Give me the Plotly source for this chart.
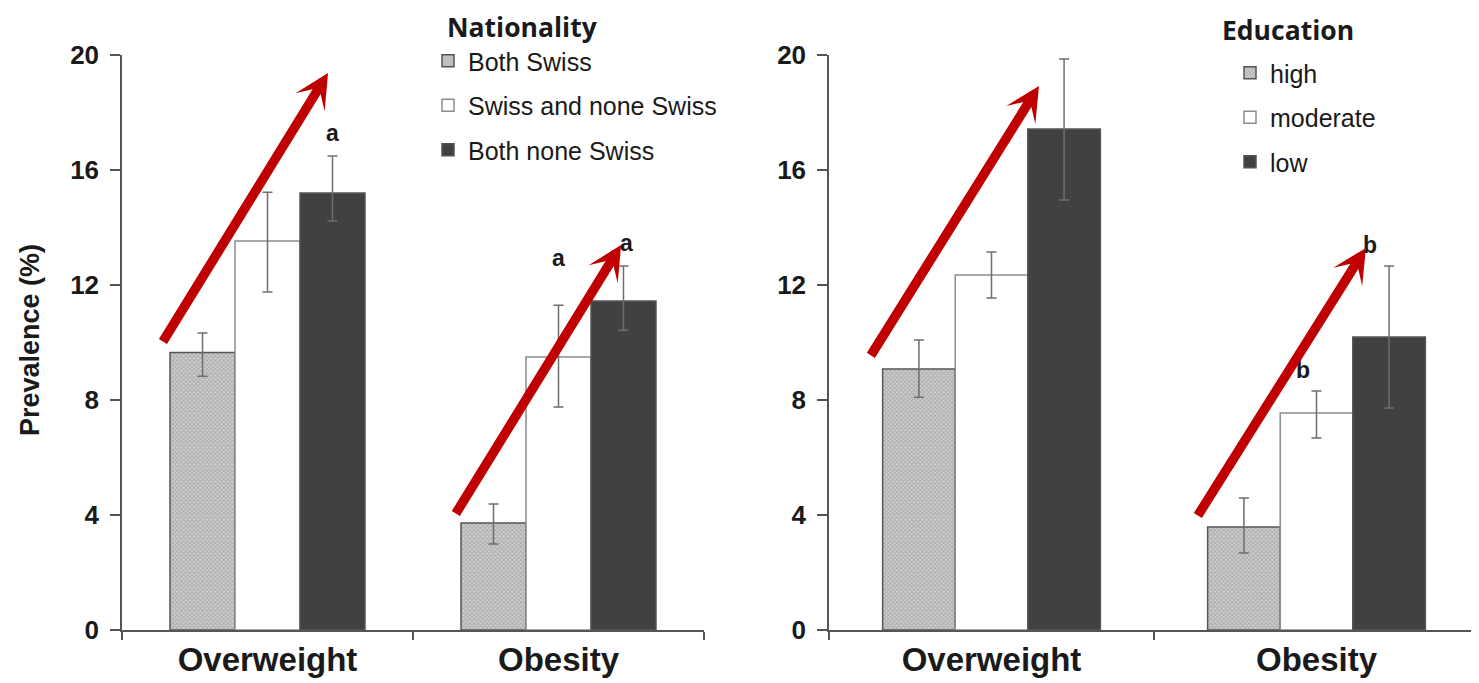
import plotly.graph_objects as go

categories = ["Overweight", "Obesity"]

# Left panel: Nationality
nat_names = ["Both Swiss", "Swiss and none Swiss", "Both none Swiss"]
nat_values = [[9.65, 3.72], [13.53, 9.5], [15.2, 11.44]]
nat_err_plus = [[0.68, 0.66], [1.70, 1.80], [1.29, 1.22]]
nat_err_minus = [[0.82, 0.73], [1.77, 1.74], [0.97, 1.01]]

# Right panel: Education
edu_names = ["high", "moderate", "low"]
edu_values = [[9.08, 3.58], [12.35, 7.55], [17.43, 10.19]]
edu_err_plus = [[1.01, 1.01], [0.80, 0.76], [2.43, 2.47]]
edu_err_minus = [[0.98, 0.90], [0.80, 0.87], [2.47, 2.47]]

# significance letters (panel, text, x position in category units, y value)
letters_panel = [1, 1, 1, 2, 2, 2]
letters_text = ["a", "a", "a", "b", "b", "b"]
letters_x = [0.225, 1.0, 1.235, 0.26, 0.958, 1.165]
letters_y = [17.3, 12.94, 13.46, 20.77, 9.04, 13.39]

# trend arrows (panel, tail x, tail y, head x, head y) in data units
arrows_panel = [1, 1, 2, 2]
arrows_tail_x = [-0.3625, 0.644, -0.374, 0.632]
arrows_tail_y = [9.98, 4.0, 9.5, 3.93]
arrows_head_x = [0.208, 1.215, 0.146, 1.152]
arrows_head_y = [19.37, 13.39, 18.92, 13.29]

# page offset (default body margin of the html page)
OFF = 8
W, H = 1479, 683
T = 55 - OFF
B = H - (630 - OFF)
PH = H - T - B


def px_x(px):
    return (px - OFF) / W


def px_y(py):
    return (H - B - (py - OFF)) / PH


def cont_x(px):
    return (px - OFF) / W


def cont_y(py):
    return 1 - (py - OFF) / H


styles = [
    dict(color="#d0d0d0", line=dict(color="#555555", width=1.5),
         pattern=dict(shape="x", size=3, solidity=0.5, fgcolor="#828282", bgcolor="#d0d0d0")),
    dict(color="#ffffff", line=dict(color="#8c8c8c", width=1.5)),
    dict(color="#414141", line=dict(color="#555555", width=1.5)),
]

fig = go.Figure()

for i, name in enumerate(nat_names):
    fig.add_trace(go.Bar(
        x=categories, y=nat_values[i], name=name, marker=styles[i],
        error_y=dict(type="data", array=nat_err_plus[i], arrayminus=nat_err_minus[i],
                     color="#6e6e6e", thickness=1.5, width=5),
        xaxis="x", yaxis="y", legend="legend", legendgroup="n%d" % i,
    ))

for i, name in enumerate(edu_names):
    fig.add_trace(go.Bar(
        x=categories, y=edu_values[i], name=name, marker=styles[i],
        error_y=dict(type="data", array=edu_err_plus[i], arrayminus=edu_err_minus[i],
                     color="#6e6e6e", thickness=1.5, width=5),
        xaxis="x2", yaxis="y2", legend="legend2", legendgroup="e%d" % i,
    ))

tickfont = dict(family="Liberation Sans, Arial", size=26, color="#1a1a1a", weight="bold")
xfont = dict(family="Liberation Sans, Arial", size=33, color="#1a1a1a", weight="bold")

yax = dict(range=[0, 20], tickvals=[0, 4, 8, 12, 16, 20], showgrid=False, zeroline=False,
           showline=True, linecolor="#555555", linewidth=1.5, ticks="outside", ticklen=10,
           tickcolor="#555555", tickwidth=1.5, tickfont=tickfont, ticklabelstandoff=6)
xax = dict(type="category", range=[-0.5, 1.5], showgrid=False, zeroline=False, showline=True,
           linecolor="#555555", linewidth=1.5, ticks="outside", ticklen=8, tickcolor="#555555",
           tickwidth=1.5, tickson="boundaries", tickfont=xfont, tickangle=0)

annotations = []
for p, t, x, y in zip(letters_panel, letters_text, letters_x, letters_y):
    annotations.append(dict(text=t, x=x, y=y, xref="x" if p == 1 else "x2",
                            yref="y" if p == 1 else "y2", showarrow=False,
                            font=dict(family="Liberation Sans, Arial", size=23, color="#1a1a1a", weight="bold")))
for p, tx, ty, hx, hy in zip(arrows_panel, arrows_tail_x, arrows_tail_y, arrows_head_x, arrows_head_y):
    xr = "x" if p == 1 else "x2"
    yr = "y" if p == 1 else "y2"
    annotations.append(dict(text="", x=hx, y=hy, ax=tx, ay=ty, xref=xr, yref=yr, axref=xr, ayref=yr,
                            showarrow=True, arrowhead=3, arrowsize=0.6, arrowwidth=9.5,
                            arrowcolor="#c00000", standoff=0, startstandoff=0))
annotations.append(dict(text="Prevalence (%)", textangle=-90, x=px_x(30), y=px_y(340),
                        xref="paper", yref="paper", xanchor="center", yanchor="middle", showarrow=False,
                        font=dict(family="Liberation Sans, Arial", size=27, color="#1a1a1a", weight="bold")))
title_font = dict(family="Open Sans", size=26.5, color="#1a1a1a", weight="bold")
annotations.append(dict(text="Nationality", x=px_x(446), y=px_y(27), xref="paper", yref="paper",
                        xanchor="left", yanchor="middle", showarrow=False, borderpad=0, font=title_font))
annotations.append(dict(text="Education", x=px_x(1221), y=px_y(30), xref="paper", yref="paper",
                        xanchor="left", yanchor="middle", showarrow=False, borderpad=0, font=title_font))

legfont = dict(family="Liberation Sans, Arial", size=25, color="#1a1a1a")
fig.update_layout(
    width=W, height=H,
    margin=dict(l=0, r=0, t=T, b=B, autoexpand=False),
    paper_bgcolor="white", plot_bgcolor="white",
    barmode="group", bargap=0.33, bargroupgap=0,
    xaxis=dict(domain=[px_x(122), px_x(704)], anchor="y", **xax),
    yaxis=dict(domain=[0, 1], anchor="x", **yax),
    xaxis2=dict(domain=[px_x(829), px_x(1479)], anchor="y2", **xax),
    yaxis2=dict(domain=[0, 1], anchor="x2", **yax),
    legend=dict(xref="container", yref="container", x=cont_x(428), y=cont_y(38),
                xanchor="left", yanchor="top", font=legfont, tracegroupgap=9,
                bgcolor="rgba(0,0,0,0)"),
    legend2=dict(xref="container", yref="container", x=cont_x(1230), y=cont_y(50),
                 xanchor="left", yanchor="top", font=legfont, tracegroupgap=9,
                 bgcolor="rgba(0,0,0,0)"),
    annotations=annotations,
    showlegend=True,
)

fig.write_html("out.html")
